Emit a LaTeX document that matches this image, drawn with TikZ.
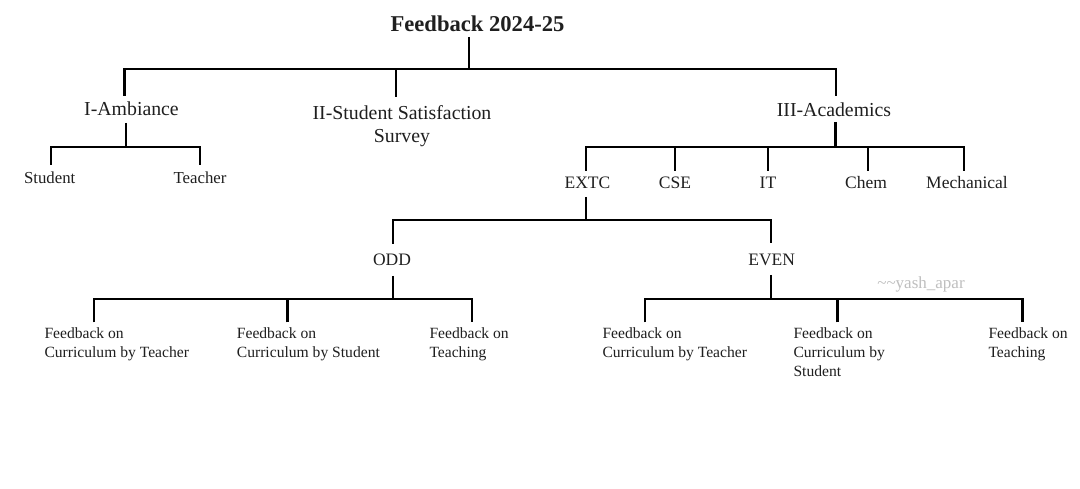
\documentclass[tikz,border=0pt]{standalone}
\usepackage{fontspec}
\setmainfont{Liberation Serif}
\newcommand\fz[2]{\fontsize{#1}{#2}\selectfont}
\begin{document}
\begin{tikzpicture}[x=1pt,y=-1pt,
  conn/.style={draw=black,line width=2.2pt,line join=miter},
  lab/.style={inner sep=0pt,text=black!88},
  ttl/.style={lab,font=\fz{22.6}{27}\bfseries,anchor=base},
  lvone/.style={lab,font=\fz{19.8}{23.7},anchor=base},
  dept/.style={lab,font=\fz{17.5}{21},anchor=base},
  sub/.style={lab,font=\fz{16.8}{20},anchor=base},
  leaf/.style={lab,font=\fz{15.6}{19},anchor=north west,align=left},
  wmark/.style={inner sep=0pt,text=black!25,font=\fz{17}{20},anchor=base}]
\useasboundingbox (0,0) rectangle (1080,489);
\fill[white] (0,0) rectangle (1080,489);

% ---------- labels ----------
\node[ttl] (title) at (477.5,32) {Feedback 2024-25};
\node[lvone] (amb) at (131.5,116) {I-Ambiance};
\node[lvone,anchor=north,align=center] (sss) at (402,105) {II-Student Satisfaction\\Survey};
\node[lvone] (aca) at (834,116.5) {III-Academics};

\node[sub] (stu) at (49.7,184) {Student};
\node[sub] (tea) at (200,184) {Teacher};

\node[dept] (extc) at (587.5,189) {EXTC};
\node[dept] (cse) at (675,189) {CSE};
\node[dept] (it) at (768,189) {IT};
\node[dept] (chem) at (866,189) {Chem};
\node[dept] (mech) at (967,189) {Mechanical};

\node[dept] (odd) at (392,266) {ODD};
\node[dept] (even) at (771.7,266) {EVEN};

\node[leaf] (o1) at (44.3,327.3) {Feedback on\\Curriculum by Teacher};
\node[leaf] (o2) at (236.7,327.3) {Feedback on\\Curriculum by Student};
\node[leaf] (o3) at (429.3,327.3) {Feedback on\\Teaching};
\node[leaf] (e1) at (602.3,327.3) {Feedback on\\Curriculum by Teacher};
\node[leaf] (e2) at (793.3,327.3) {Feedback on\\Curriculum by\\Student};
\node[leaf] (e3) at (988.3,327.3) {Feedback on\\Teaching};

\node[wmark] (wm) at (921,289) {\textasciitilde\textasciitilde yash\_apar};

% ---------- attach points ----------
\coordinate (titleB) at (469,37);
\coordinate (ambT) at (124.5,96);   \coordinate (ambB) at (126,123);
\coordinate (sssT) at (396,97);
\coordinate (acaT) at (836,96);     \coordinate (acaB) at (835.5,122);
\coordinate (stuT) at (51,165);     \coordinate (teaT) at (200,165);
\coordinate (extcT) at (586,171);   \coordinate (extcB) at (586,197);
\coordinate (cseT) at (675,171);    \coordinate (itT) at (768,171);
\coordinate (chemT) at (868,171);   \coordinate (mechT) at (964,171);
\coordinate (oddT) at (393,244);    \coordinate (oddB) at (393,276);
\coordinate (evenT) at (771,243);   \coordinate (evenB) at (771,275);
\coordinate (o1T) at (94,322.5);    \coordinate (o2T) at (287.5,322.5);
\coordinate (o3T) at (472,322.5);
\coordinate (e1T) at (645,322.5);   \coordinate (e2T) at (837.5,322.5);
\coordinate (e3T) at (1022.5,322.5);

% ---------- connectors ----------
% root
\draw[conn] (ambT) -- (ambT |- 0,69) -- (acaT |- 0,69) -- (acaT);
\draw[conn] (titleB) -- (titleB |- 0,69);
\draw[conn] (sssT) -- (sssT |- 0,69);
% ambiance
\draw[conn] (stuT) -- (stuT |- 0,147) -- (teaT |- 0,147) -- (teaT);
\draw[conn] (ambB) -- (ambB |- 0,147);
% academics
\draw[conn] (extcT) -- (extcT |- 0,147) -- (mechT |- 0,147) -- (mechT);
\draw[conn] (acaB) -- (acaB |- 0,147);
\draw[conn] (cseT) -- (cseT |- 0,147);
\draw[conn] (itT) -- (itT |- 0,147);
\draw[conn] (chemT) -- (chemT |- 0,147);
% extc
\draw[conn] (oddT) -- (oddT |- 0,220) -- (evenT |- 0,220) -- (evenT);
\draw[conn] (extcB) -- (extcB |- 0,220);
% odd
\draw[conn] (o1T) -- (o1T |- 0,299) -- (o3T |- 0,299) -- (o3T);
\draw[conn] (oddB) -- (oddB |- 0,299);
\draw[conn] (o2T) -- (o2T |- 0,299);
% even
\draw[conn] (e1T) -- (e1T |- 0,299) -- (e3T |- 0,299) -- (e3T);
\draw[conn] (evenB) -- (evenB |- 0,299);
\draw[conn] (e2T) -- (e2T |- 0,299);
\end{tikzpicture}
\end{document}
